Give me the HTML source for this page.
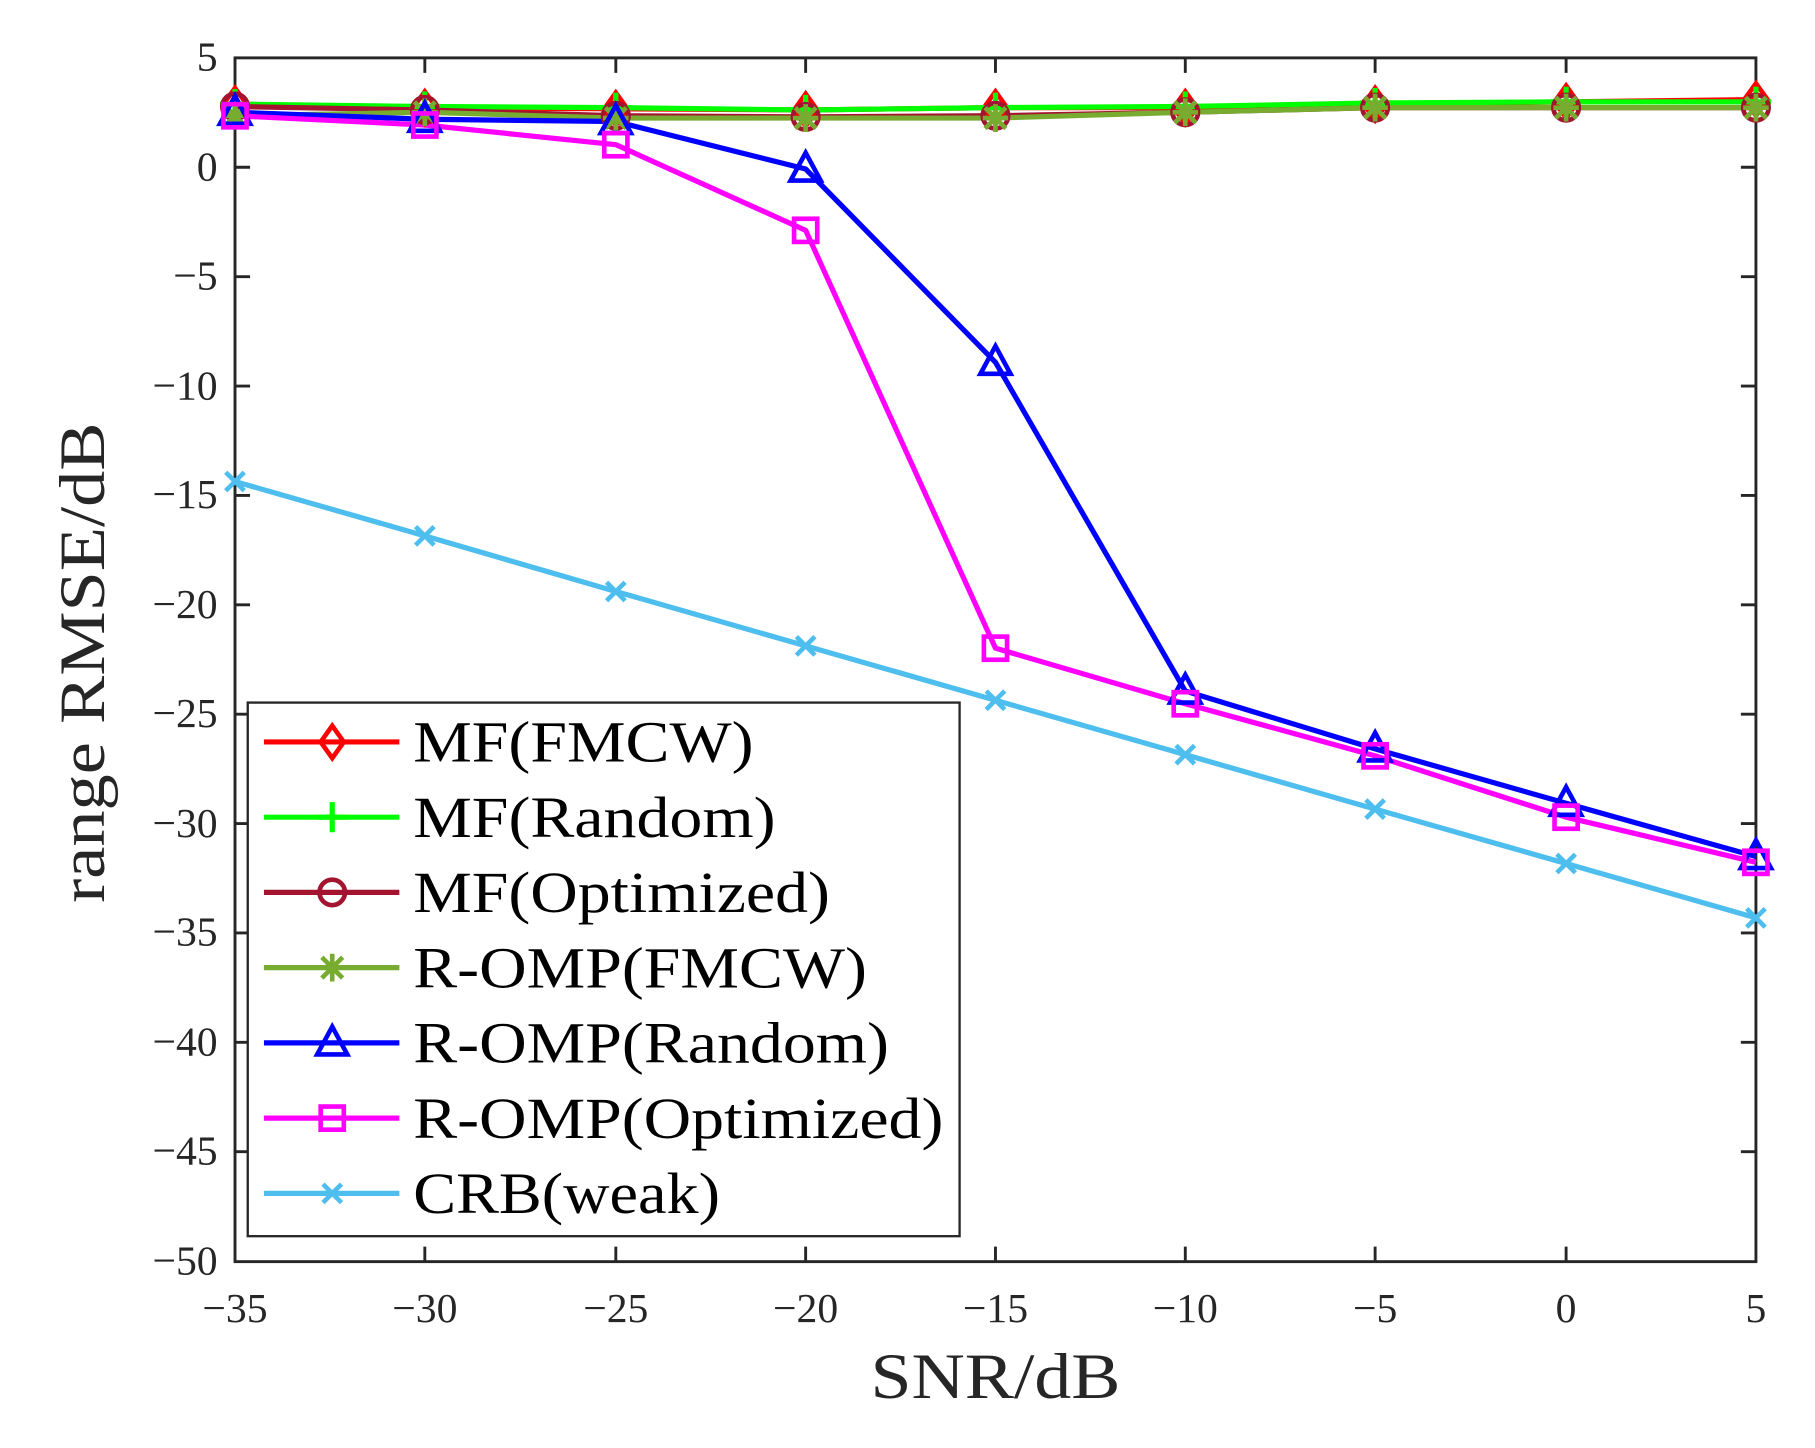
<!DOCTYPE html>
<html><head><meta charset="utf-8"><style>
html,body{margin:0;padding:0;background:#fff;}
svg{display:block;}
text{font-family:"Liberation Serif","DejaVu Serif",serif;fill:#262626;}
</style></head><body>
<svg width="1815" height="1448" viewBox="0 0 1568 1251" xmlns="http://www.w3.org/2000/svg">
<defs>
<g id="dia"><path d="M0,-14 L10,0 L0,14 L-10,0 Z" fill="none" stroke="#ff0000" stroke-width="4"/></g>
<g id="plus"><path d="M-13,0 H13 M0,-13 V13" stroke="#00ff00" stroke-width="4.5"/></g>
<g id="circ"><circle r="11" fill="none" stroke="#a2142f" stroke-width="4"/></g>
<g id="star"><path d="M-11,0 H11 M0,-12 V12 M-9,-9 L9,9 M-9,9 L9,-9" stroke="#77ac30" stroke-width="4"/></g>
<g id="tri"><path d="M0,-14 L13,10 L-13,10 Z" fill="none" stroke="#0000ff" stroke-width="4"/></g>
<g id="sq"><rect x="-10" y="-10" width="20" height="20" fill="none" stroke="#ff00ff" stroke-width="4"/></g>
<g id="x"><path d="M-8,-8 L8,8 M-8,8 L8,-8" stroke="#4dbeee" stroke-width="4"/></g>
</defs>
<rect x="203" y="50" width="1314" height="1040" fill="#fff" stroke="#262626" stroke-width="2.5"/>
<g stroke="#262626" stroke-width="2.5">
<path d="M367,1090v-13M532,1090v-13M696,1090v-13M860,1090v-13M1024,1090v-13M1188,1090v-13M1353,1090v-13
M367,50v13M532,50v13M696,50v13M860,50v13M1024,50v13M1188,50v13M1353,50v13"/>
<path d="M203,144.5h13M203,239h13M203,333.5h13M203,428h13M203,522.5h13M203,617h13M203,711.5h13M203,806h13M203,900.5h13M203,995h13
M1517,144.5h-13M1517,239h-13M1517,333.5h-13M1517,428h-13M1517,522.5h-13M1517,617h-13M1517,711.5h-13M1517,806h-13M1517,900.5h-13M1517,995h-13"/>
</g>
<g font-size="36" text-anchor="end">
<text x="188" y="61">5</text><text x="188" y="156">0</text><text x="188" y="250">−5</text><text x="188" y="345">−10</text>
<text x="188" y="439">−15</text><text x="188" y="534">−20</text><text x="188" y="628">−25</text><text x="188" y="723">−30</text>
<text x="188" y="817">−35</text><text x="188" y="912">−40</text><text x="188" y="1006">−45</text><text x="188" y="1101">−50</text>
</g>
<g font-size="36" text-anchor="middle">
<text x="203" y="1142">−35</text><text x="367" y="1142">−30</text><text x="532" y="1142">−25</text><text x="696" y="1142">−20</text>
<text x="860" y="1142">−15</text><text x="1024" y="1142">−10</text><text x="1188" y="1142">−5</text><text x="1353" y="1142">0</text><text x="1517" y="1142">5</text>
</g>
<text x="752" y="1208" font-size="56" textLength="216" lengthAdjust="spacingAndGlyphs">SNR/dB</text>
<text transform="translate(90,780) rotate(-90)" font-size="56" textLength="415" lengthAdjust="spacingAndGlyphs">range RMSE/dB</text>
<g fill="none" stroke-width="4.5" stroke-linejoin="round">
<polyline stroke="#ff0000" points="203,90 367,93 532,94 696,95 860,93 1024,93 1188,90 1353,88 1517,86"/>
<polyline stroke="#00ff00" points="203,90 367,92 532,93 696,95 860,93 1024,92 1188,89 1353,88 1517,88"/>
<polyline stroke="#a2142f" points="203,92 367,95 532,100 696,101 860,100 1024,97 1188,93 1353,93 1517,93"/>
<polyline stroke="#77ac30" points="203,100 367,97 532,102 696,102 860,102 1024,97 1188,93 1353,93 1517,93"/>
<polyline stroke="#0000ff" points="203,97 367,103 532,105 696,146 860,313 1024,597 1188,647 1353,694 1517,740"/>
<polyline stroke="#ff00ff" points="203,100 367,108 532,125 696,199 860,560 1024,608 1188,653 1353,706 1517,745"/>
<polyline stroke="#4dbeee" points="203,416 367,463 532,511 696,558 860,605 1024,652 1188,699 1353,746 1517,793"/>
</g>
<g>
<use href="#dia" x="203" y="90"/><use href="#dia" x="367" y="93"/><use href="#dia" x="532" y="94"/><use href="#dia" x="696" y="95"/><use href="#dia" x="860" y="93"/><use href="#dia" x="1024" y="93"/><use href="#dia" x="1188" y="90"/><use href="#dia" x="1353" y="88"/><use href="#dia" x="1517" y="86"/>
<use href="#plus" x="203" y="90"/><use href="#plus" x="367" y="92"/><use href="#plus" x="532" y="93"/><use href="#plus" x="696" y="95"/><use href="#plus" x="860" y="93"/><use href="#plus" x="1024" y="92"/><use href="#plus" x="1188" y="89"/><use href="#plus" x="1353" y="88"/><use href="#plus" x="1517" y="88"/>
<use href="#circ" x="203" y="92"/><use href="#circ" x="367" y="95"/><use href="#circ" x="532" y="100"/><use href="#circ" x="696" y="101"/><use href="#circ" x="860" y="100"/><use href="#circ" x="1024" y="97"/><use href="#circ" x="1188" y="93"/><use href="#circ" x="1353" y="93"/><use href="#circ" x="1517" y="93"/>
<use href="#star" x="203" y="100"/><use href="#star" x="367" y="97"/><use href="#star" x="532" y="102"/><use href="#star" x="696" y="102"/><use href="#star" x="860" y="102"/><use href="#star" x="1024" y="97"/><use href="#star" x="1188" y="93"/><use href="#star" x="1353" y="93"/><use href="#star" x="1517" y="93"/>
<use href="#tri" x="203" y="97"/><use href="#tri" x="367" y="103"/><use href="#tri" x="532" y="105"/><use href="#tri" x="696" y="146"/><use href="#tri" x="860" y="313"/><use href="#tri" x="1024" y="597"/><use href="#tri" x="1188" y="647"/><use href="#tri" x="1353" y="694"/><use href="#tri" x="1517" y="740"/>
<use href="#sq" x="203" y="100"/><use href="#sq" x="367" y="108"/><use href="#sq" x="532" y="125"/><use href="#sq" x="696" y="199"/><use href="#sq" x="860" y="560"/><use href="#sq" x="1024" y="608"/><use href="#sq" x="1188" y="653"/><use href="#sq" x="1353" y="706"/><use href="#sq" x="1517" y="745"/>
<use href="#x" x="203" y="416"/><use href="#x" x="367" y="463"/><use href="#x" x="532" y="511"/><use href="#x" x="696" y="558"/><use href="#x" x="860" y="605"/><use href="#x" x="1024" y="652"/><use href="#x" x="1188" y="699"/><use href="#x" x="1353" y="746"/><use href="#x" x="1517" y="793"/>
</g>
<rect x="214" y="607" width="615" height="461" fill="#fff" stroke="#262626" stroke-width="2"/>
<g stroke-width="4.5">
<path d="M228,641H345" stroke="#ff0000"/><use href="#dia" x="287" y="641"/>
<path d="M228,706H345" stroke="#00ff00"/><use href="#plus" x="287" y="706"/>
<path d="M228,771H345" stroke="#a2142f"/><use href="#circ" x="287" y="771"/>
<path d="M228,836H345" stroke="#77ac30"/><use href="#star" x="287" y="836"/>
<path d="M228,901H345" stroke="#0000ff"/><use href="#tri" x="287" y="901"/>
<path d="M228,966H345" stroke="#ff00ff"/><use href="#sq" x="287" y="966"/>
<path d="M228,1031H345" stroke="#4dbeee"/><use href="#x" x="287" y="1031"/>
</g>
<g font-size="50" lengthAdjust="spacingAndGlyphs">
<text x="357" y="658" style="fill:#000" textLength="294" lengthAdjust="spacingAndGlyphs">MF(FMCW)</text>
<text x="357" y="723" style="fill:#000" textLength="313" lengthAdjust="spacingAndGlyphs">MF(Random)</text>
<text x="357" y="788" style="fill:#000" textLength="360" lengthAdjust="spacingAndGlyphs">MF(Optimized)</text>
<text x="357" y="853" style="fill:#000" textLength="392" lengthAdjust="spacingAndGlyphs">R-OMP(FMCW)</text>
<text x="357" y="918" style="fill:#000" textLength="411" lengthAdjust="spacingAndGlyphs">R-OMP(Random)</text>
<text x="357" y="983" style="fill:#000" textLength="458" lengthAdjust="spacingAndGlyphs">R-OMP(Optimized)</text>
<text x="357" y="1048" style="fill:#000" textLength="265" lengthAdjust="spacingAndGlyphs">CRB(weak)</text>
</g>
</svg>
</body></html>
